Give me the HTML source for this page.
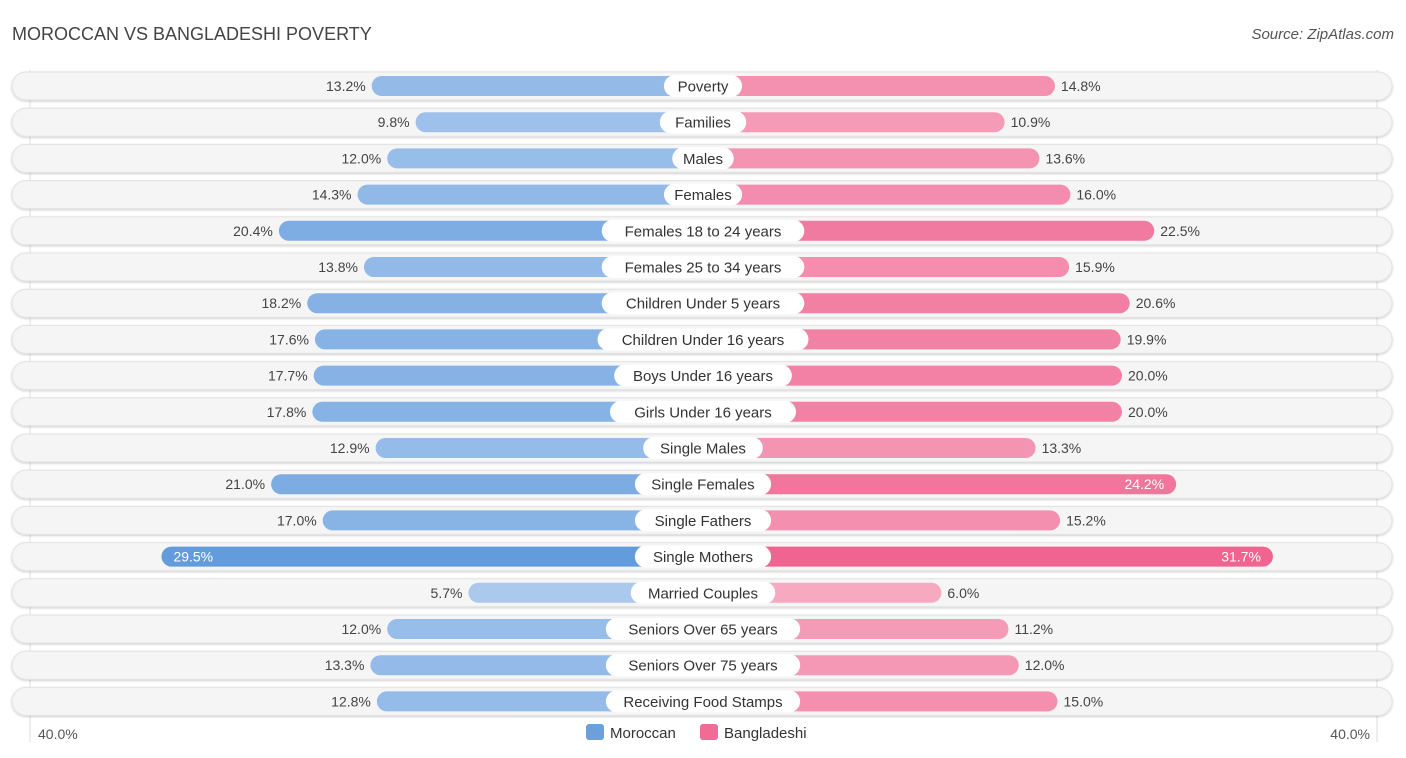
<!DOCTYPE html>
<html><head><meta charset="utf-8">
<style>
body{margin:0;background:#fff;font-family:"Liberation Sans",sans-serif;}
#wrap{position:relative;width:1406px;height:758px;overflow:hidden;}
</style></head>
<body>
<div id="wrap">
<svg id="svg" width="1406" height="758" xmlns="http://www.w3.org/2000/svg" font-family="Liberation Sans, sans-serif">
<defs>
<filter id="sh" x="-5%" y="-30%" width="110%" height="160%"><feDropShadow dx="0" dy="1" stdDeviation="1" flood-color="#000" flood-opacity="0.2"/></filter>
</defs>
<text x="12" y="40" font-size="18" fill="#444">MOROCCAN VS BANGLADESHI POVERTY</text>
<text x="1394" y="39" font-size="15" fill="#555" font-style="italic" text-anchor="end">Source: ZipAtlas.com</text>
<line x1="30" y1="70" x2="30" y2="742" stroke="#ddd"/>
<line x1="1377" y1="70" x2="1377" y2="742" stroke="#ddd"/>
<g id="rows"></g>
<text x="38" y="739" font-size="14" fill="#555">40.0%</text>
<text x="1370" y="739" font-size="14" fill="#555" text-anchor="end">40.0%</text>
<g>
<rect x="586" y="724" width="18" height="16" rx="3" fill="#6ca0dc"/>
<text x="610" y="738" font-size="15" fill="#333">Moroccan</text>
<rect x="700" y="724" width="18" height="16" rx="3" fill="#f06b96"/>
<text x="724" y="738" font-size="15" fill="#333">Bangladeshi</text>
</g>
</svg>
</div>
<script>
const categories=["Poverty","Families","Males","Females","Females 18 to 24 years","Females 25 to 34 years","Children Under 5 years","Children Under 16 years","Boys Under 16 years","Girls Under 16 years","Single Males","Single Females","Single Fathers","Single Mothers","Married Couples","Seniors Over 65 years","Seniors Over 75 years","Receiving Food Stamps"];
const moroccan=[13.2,9.8,12.0,14.3,20.4,13.8,18.2,17.6,17.7,17.8,12.9,21.0,17.0,29.5,5.7,12.0,13.3,12.8];
const bangladeshi=[14.8,10.9,13.6,16.0,22.5,15.9,20.6,19.9,20.0,20.0,13.3,24.2,15.2,31.7,6.0,11.2,12.0,15.0];
const NS="http://www.w3.org/2000/svg";
const cx=703, off=161, pxPer=12.9, y0=86, dy=36.2;
const len=v=>off+v*pxPer;
const xL=v=>cx-len(v), xR=v=>cx+len(v), yRow=i=>y0+i*dy;
function mix(a,b,t){return a.map((c,i)=>Math.round(c+(b[i]-c)*t));}
function col(v,light,dark){const t=Math.min(1,Math.max(0,(v-5)/25));const c=mix(light,dark,t);return `rgb(${c[0]},${c[1]},${c[2]})`;}
function mk(tag,attrs,parent){const e=document.createElementNS(NS,tag);for(const k in attrs)e.setAttribute(k,attrs[k]);parent.appendChild(e);return e;}
const g=document.getElementById('rows');
categories.forEach((cat,i)=>{
  const y=yRow(i);
  const row=mk('g',{},g);
  
  
  const bg=mk('rect',{x:12,y:y-14,width:1380,height:28,rx:14,fill:'#f5f5f5',stroke:'#e2e2e2',filter:'url(#sh)'},row);
  
  
  const m=moroccan[i], b=bangladeshi[i];
  const bm=mk('rect',{x:xL(m),y:y-10,width:len(m),height:20,rx:10,fill:col(m,[172,202,238],[98,155,220])},row);
  
  
  const bb=mk('rect',{x:cx,y:y-10,width:len(b),height:20,rx:10,fill:col(b,[247,172,196],[239,100,145])},row);
  
  
  const inM=m>23, inB=b>23;
  const tm=mk('text',{x:inM?xL(m)+12:xL(m)-6,y:y+5,'font-size':14,fill:inM?'#fff':'#444','text-anchor':inM?'start':'end'},row);
  tm.textContent=m.toFixed(1)+'%';
  
  
  const tb=mk('text',{x:inB?xR(b)-12:xR(b)+6,y:y+5,'font-size':14,fill:inB?'#fff':'#444','text-anchor':inB?'end':'start'},row);
  tb.textContent=b.toFixed(1)+'%';
  
  
  const w=cat.length*8.3+20;
  const lb=mk('rect',{x:cx-w/2,y:y-11,width:w,height:22,rx:11,fill:'#fff'},row);
  
  
  const lt=mk('text',{x:cx,y:y+5.5,'font-size':15,fill:'#333','text-anchor':'middle'},row);
  lt.textContent=cat;
  
  
});
</script>
</body></html>
